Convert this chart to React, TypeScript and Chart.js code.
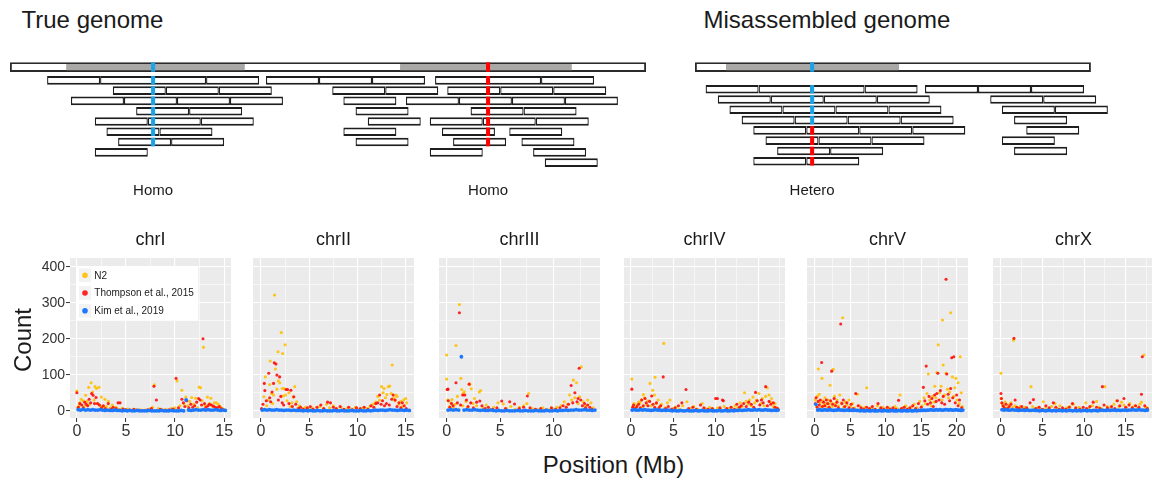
import React, { useEffect, useRef } from 'react';
import { Chart, registerables } from 'chart.js';

Chart.register(...registerables);

const FONT = '"Liberation Sans", Arial, Helvetica, sans-serif';
Chart.defaults.font.family = FONT;

// ---------------------------------------------------------------------------
// Read-pileup schematic. Coordinates in kb along each assembly; every read is
// READ_LEN long, and each row lists the start of every read in that row.
// ---------------------------------------------------------------------------
const READ_LEN = 10;

const TRUE_GENOME = [0, 120];
const TRUE_REPEATS = [
  [10.6, 44.3],
  [73.6, 106.0],
];
const TRUE_READS = [
  [7, 17, 27, 37, 48.3, 58.3, 68.3, 80.2, 90.2, 100.2],
  [19.4, 29.4, 39.4, 60.8, 70.8, 82.5, 92.5, 102.5],
  [11.5, 21.5, 31.5, 41.5, 62.9, 74.7, 84.7, 94.7, 104.7],
  [23.8, 33.8, 65.2, 86.9, 96.9],
  [16, 26, 36, 67.5, 79.2, 89.2, 99.2],
  [18.2, 28.2, 62.9, 81.5, 94.2],
  [20.4, 30.4, 65.2, 83.6, 96.5],
  [16, 79.2, 98.7],
  [100.9],
];
const TRUE_SITES = [
  { pos: 27, allele: 'ref', label: 'Homo' },
  { pos: 90.2, allele: 'alt', label: 'Homo' },
];

const MIS_GENOME = [0, 74.7];
const MIS_REPEATS = [[5.85, 38.5]];
const MIS_READS = [
  [2, 12, 22, 32, 43.4, 53.4, 63.4],
  [4.3, 14.3, 24.3, 34.3, 55.7, 65.7],
  [6.5, 16.5, 26.5, 36.5, 57.9, 67.9],
  [8.8, 18.8, 28.8, 38.8, 60.2],
  [11, 21, 31, 41, 62.5],
  [13.3, 23.3, 33.3, 57.9],
  [15.5, 25.5, 60.2],
  [11, 21],
];
const MIS_SITES = [{ pos: 22.1, allele: 'ref', label: 'Hetero' }];
// allele carried by the reads of each row at the collapsed site
const MIS_ROW_ALLELES = ['ref', 'ref', 'ref', 'ref', 'alt', 'alt', 'alt', 'alt'];

// ---------------------------------------------------------------------------
// Per-chromosome counts. N2 and Thompson et al. are [position (Mb), count];
// Kim et al. is a count per KIM_BIN_MB window starting at 0 Mb.
// ---------------------------------------------------------------------------
const CHROMOSOMES = ['chrI', 'chrII', 'chrIII', 'chrIV', 'chrV', 'chrX'];
const KIM_BIN_MB = 0.25;

const N2_I = [[0,55],[0.1,8],[0.2,14],[0.3,22],[0.45,32],[0.6,28],[0.75,12],[0.9,43],[1.05,26],[1.2,65],[1.3,18],[1.45,78],[1.6,52],[1.75,30],[1.85,67],[2.0,62],[2.15,20],[2.25,65],[2.4,14],[2.5,38],[2.7,10],[2.85,32],[3.0,12],[3.2,26],[3.4,8],[3.6,16],[3.8,6],[4.0,10],[4.3,4],[4.6,6],[4.9,3],[5.2,5],[5.6,2],[6.0,4],[6.5,3],[7.0,2],[7.4,5],[7.7,10],[7.9,72],[8.3,6],[8.7,4],[9.2,3],[9.6,6],[10.0,8],[10.2,83],[10.5,14],[10.7,57],[10.9,20],[11.1,38],[11.3,14],[11.5,26],[11.7,37],[11.9,18],[12.1,35],[12.3,8],[12.45,66],[12.6,64],[12.75,28],[12.9,176],[13.05,15],[13.3,38],[13.5,20],[13.65,35],[13.85,12],[14.0,22],[14.2,22],[14.4,18],[14.6,12],[14.8,6],[14.95,4]];
const THOMPSON_I = [[0,50],[0.15,10],[0.3,20],[0.5,16],[0.65,8],[0.8,24],[0.95,18],[1.1,14],[1.25,32],[1.4,22],[1.5,48],[1.65,43],[1.8,20],[1.95,37],[2.1,20],[2.3,16],[2.5,8],[2.7,14],[2.9,6],[3.2,20],[3.5,5],[3.7,10],[4.0,6],[4.2,22],[4.4,22],[4.7,5],[5.0,3],[5.4,2],[5.8,4],[6.3,2],[6.8,1],[7.2,3],[7.6,6],[7.85,68],[8.1,30],[8.5,4],[9.0,2],[9.4,3],[9.8,5],[10.1,90],[10.35,8],[10.7,32],[10.85,22],[11.0,12],[11.2,28],[11.4,8],[11.6,18],[11.8,10],[12.0,14],[12.2,24],[12.4,34],[12.55,30],[12.7,16],[12.85,200],[13.0,20],[13.15,10],[13.35,14],[13.5,18],[13.7,16],[13.9,13],[14.1,10],[14.3,8],[14.5,12],[14.7,6],[14.9,3]];
const KIM_I = [3,2,4,2,3,2,3,2,2,3,2,1,2,1,1,2,1,1,0,1,0,1,0,0,1,0,0,0,0,1,0,0,0,0,1,0,0,0,1,0,0,0,1,0,30,2,1,2,3,2,2,3,2,3,2,2,3,2,1,2,1];

const N2_II = [[0.1,4],[0.3,39],[0.45,94],[0.6,14],[0.75,30],[0.9,73],[0.95,138],[1.1,48],[1.2,20],[1.3,44],[1.4,321],[1.5,116],[1.65,60],[1.76,164],[1.8,83],[1.95,78],[2.1,217],[2.2,62],[2.24,159],[2.3,41],[2.4,62],[2.5,183],[2.55,44],[2.7,28],[2.9,50],[3.05,12],[3.2,22],[3.35,38],[3.5,67],[3.7,25],[3.85,8],[4.0,14],[4.3,6],[4.6,10],[4.9,4],[5.3,8],[5.7,3],[6.1,12],[6.5,6],[6.8,18],[7.1,8],[7.5,14],[7.9,4],[8.3,10],[8.7,3],[9.0,8],[9.4,5],[9.8,10],[10.2,4],[10.6,8],[11.0,6],[11.3,12],[11.6,18],[11.9,24],[12.1,40],[12.3,30],[12.5,67],[12.65,50],[12.76,62],[12.9,36],[13.05,45],[13.2,67],[13.35,69],[13.5,48],[13.6,127],[13.75,36],[13.9,28],[14.0,44],[14.1,40],[14.3,18],[14.5,26],[14.65,12],[14.8,30],[15.0,34],[15.1,22]];
const THOMPSON_II = [[0.05,6],[0.2,18],[0.34,76],[0.4,56],[0.55,28],[0.8,104],[0.9,36],[1.0,25],[1.15,52],[1.3,76],[1.38,133],[1.55,130],[1.65,99],[1.8,30],[1.93,94],[2.05,40],[2.2,22],[2.35,16],[2.6,59],[2.75,59],[2.9,20],[3.1,57],[3.25,12],[3.4,39],[3.6,18],[3.9,6],[4.1,10],[4.4,4],[4.8,8],[5.1,12],[5.4,4],[5.8,10],[6.2,16],[6.5,6],[6.9,24],[7.2,22],[7.5,10],[7.8,6],[8.2,12],[8.6,4],[9.1,10],[9.5,3],[9.9,8],[10.3,6],[10.7,10],[11.1,4],[11.4,14],[11.7,10],[11.9,20],[12.1,22],[12.3,44],[12.45,18],[12.6,28],[12.8,14],[13.0,20],[13.3,16],[13.55,32],[13.7,44],[13.9,30],[14.1,12],[14.3,22],[14.5,8],[14.65,22],[14.85,14],[15.05,6]];
const KIM_II = [2,3,2,3,2,2,3,2,2,1,2,2,1,2,1,1,1,0,1,0,1,0,0,1,0,0,1,0,0,0,1,0,0,1,0,0,0,1,0,0,0,1,0,0,1,0,1,2,1,2,2,1,2,3,2,2,1,2,2,1,2,1];

const N2_III = [[0.0,155],[0.0,88],[0.1,30],[0.25,12],[0.4,22],[0.5,31],[0.65,8],[0.8,18],[0.87,181],[1.0,40],[1.19,295],[1.33,90],[1.4,59],[1.5,14],[1.55,48],[1.64,53],[1.8,26],[1.95,10],[2.17,74],[2.3,61],[2.45,20],[2.6,34],[2.8,14],[3.05,52],[3.17,56],[3.4,8],[3.7,16],[4.0,5],[4.4,10],[4.8,22],[5.3,19],[5.6,6],[6.0,12],[6.4,4],[6.8,10],[7.2,14],[7.5,20],[7.67,48],[8.0,6],[8.5,4],[9.0,8],[9.5,3],[9.9,6],[10.3,10],[10.7,14],[11.0,25],[11.3,18],[11.5,44],[11.7,30],[11.86,85],[12.0,36],[12.15,78],[12.3,20],[12.45,39],[12.6,122],[12.8,25],[13.0,14],[13.2,30],[13.5,22],[13.7,8]];
const THOMPSON_III = [[0.05,59],[0.12,60],[0.15,28],[0.3,10],[0.45,20],[0.6,14],[0.87,78],[1.0,22],[1.19,272],[1.3,16],[1.5,44],[1.7,44],[1.85,30],[2.0,12],[2.1,74],[2.25,22],[2.5,8],[2.8,24],[3.1,27],[3.3,14],[3.6,6],[3.9,10],[4.3,4],[4.7,8],[5.15,27],[5.5,6],[5.9,25],[6.35,19],[6.8,6],[7.2,10],[7.55,41],[7.8,8],[8.3,4],[8.8,6],[9.3,3],[9.8,8],[10.2,4],[10.6,8],[10.9,14],[11.2,10],[11.4,18],[11.65,70],[11.8,22],[12.0,50],[12.2,25],[12.3,34],[12.4,118],[12.55,30],[12.7,14],[12.9,20],[13.0,8],[13.2,16],[13.4,10],[13.6,4]];
const KIM_III = [2,3,2,3,2,150,2,3,2,2,3,2,1,2,1,1,2,1,0,1,0,0,1,0,0,0,1,0,0,1,0,0,0,1,0,0,0,1,0,0,1,0,1,1,2,1,2,2,3,2,2,3,2,2,1,2];

const N2_IV = [[0.09,88],[0.2,12],[0.35,20],[0.5,8],[0.7,16],[0.9,24],[1.06,22],[1.2,30],[1.35,10],[1.46,45],[1.6,36],[1.8,18],[2.0,28],[2.24,76],[2.4,14],[2.56,57],[2.76,44],[2.83,93],[3.0,20],[3.2,30],[3.4,12],[3.6,18],[3.86,187],[4.0,8],[4.3,22],[4.6,30],[4.9,6],[5.3,10],[5.7,4],[6.1,14],[6.6,25],[7.0,6],[7.4,12],[7.9,4],[8.4,20],[8.8,6],[9.3,10],[9.7,4],[10.2,8],[10.6,4],[11.0,12],[11.5,6],[11.9,10],[12.3,14],[12.6,8],[12.9,22],[13.1,12],[13.4,50],[13.6,26],[13.8,18],[14.0,30],[14.2,14],[14.4,38],[14.6,22],[14.8,30],[15.1,48],[15.3,20],[15.5,34],[15.7,14],[15.9,40],[16.1,64],[16.3,44],[16.5,24],[16.6,34],[16.8,12],[17.0,20],[17.2,8],[17.4,4]];
const THOMPSON_IV = [[0.09,60],[0.2,10],[0.3,16],[0.5,6],[0.7,12],[0.9,18],[1.1,8],[1.26,30],[1.45,14],[1.65,34],[1.8,22],[2.0,14],[2.2,26],[2.44,41],[2.6,18],[2.8,10],[3.0,22],[3.3,8],[3.5,14],[3.8,94],[4.1,6],[4.4,12],[4.8,4],[5.2,8],[5.6,14],[6.0,22],[6.49,59],[6.8,6],[7.3,10],[7.7,4],[8.2,16],[8.6,8],[9.1,4],[9.6,6],[9.99,34],[10.2,34],[10.5,8],[10.8,30],[10.9,28],[11.3,6],[11.8,10],[12.2,4],[12.5,18],[12.8,10],[13.0,14],[13.3,20],[13.6,12],[13.9,24],[14.2,18],[14.5,10],[14.7,51],[14.9,28],[15.2,16],[15.4,30],[15.6,22],[15.9,67],[16.1,14],[16.3,26],[16.5,18],[16.8,22],[17.0,10],[17.3,6]];
const KIM_IV = [2,3,2,2,3,2,3,2,2,1,2,3,2,2,1,2,1,2,1,0,1,0,0,1,0,0,1,0,0,0,1,0,0,1,0,0,0,1,0,0,0,1,0,0,1,0,0,1,0,1,1,2,1,2,2,3,2,2,3,2,3,2,2,3,2,2,1,2,1,2];

const N2_V = [[0.05,30],[0.2,14],[0.35,40],[0.47,116],[0.6,46],[0.75,22],[0.85,10],[0.99,90],[1.1,28],[1.25,16],[1.4,36],[1.55,20],[1.7,8],[1.85,30],[2.0,18],[2.12,71],[2.3,24],[2.45,12],[2.59,115],[2.75,40],[2.9,20],[3.1,30],[3.3,14],[3.5,44],[3.7,22],[3.9,258],[4.05,10],[4.3,24],[4.5,16],[4.8,30],[5.0,12],[5.3,20],[5.6,8],[6.0,46],[6.3,14],[6.6,6],[7.0,10],[7.3,64],[7.6,4],[8.0,8],[8.4,4],[8.8,14],[9.2,6],[9.6,10],[10.1,4],[10.5,8],[10.9,3],[11.3,12],[11.6,6],[12.0,44],[12.4,8],[12.8,14],[13.2,6],[13.6,10],[14.0,18],[14.4,8],[14.8,26],[15.1,14],[15.4,36],[15.6,20],[15.8,48],[16.0,102],[16.2,30],[16.4,14],[16.6,40],[16.8,24],[16.9,68],[17.05,36],[17.2,106],[17.4,183],[17.6,50],[17.8,68],[17.95,30],[18.0,252],[18.1,127],[18.3,44],[18.5,104],[18.7,60],[18.85,36],[19.0,52],[19.15,272],[19.4,94],[19.6,40],[19.75,64],[19.9,90],[20.05,30],[20.2,78],[20.35,20],[20.5,150],[20.65,50],[20.8,12]];
const THOMPSON_V = [[0.05,20],[0.15,36],[0.3,10],[0.45,26],[0.6,16],[0.75,30],[0.94,134],[1.05,12],[1.2,24],[1.4,14],[1.6,30],[1.8,20],[2.0,10],[2.2,28],[2.35,110],[2.5,18],[2.7,34],[2.9,14],[3.1,24],[3.3,8],[3.63,241],[3.8,20],[4.0,30],[4.2,12],[4.5,22],[4.8,8],[5.1,18],[5.4,6],[5.75,48],[6.1,14],[6.5,8],[6.9,4],[7.3,10],[7.7,6],[8.1,12],[8.5,4],[8.9,20],[9.3,8],[9.7,4],[10.2,10],[10.6,4],[11.0,8],[11.4,4],[11.8,29],[12.2,6],[12.6,10],[13.0,4],[13.4,8],[13.8,14],[14.2,6],[14.6,20],[15.0,10],[15.3,65],[15.5,28],[15.7,124],[15.9,18],[16.1,40],[16.3,22],[16.5,34],[16.7,12],[16.9,44],[17.1,26],[17.2,48],[17.35,104],[17.5,30],[17.7,56],[17.9,22],[18.1,40],[18.3,18],[18.5,365],[18.6,102],[18.8,46],[19.0,28],[19.15,62],[19.3,147],[19.45,36],[19.6,150],[19.8,22],[20.0,44],[20.2,14],[20.4,30],[20.7,8]];
const KIM_V = [18,2,3,2,2,3,2,2,3,2,1,2,2,3,2,2,1,2,2,1,2,1,2,1,1,0,1,0,0,1,0,0,1,0,0,0,1,0,0,1,0,0,0,1,0,0,0,1,0,0,1,0,0,1,0,0,1,0,1,1,1,2,1,2,2,3,2,2,3,2,3,2,2,3,3,2,3,2,2,3,2,2,1,2];

const N2_X = [[0.0,104],[0.05,34],[0.15,20],[0.3,12],[0.5,24],[0.7,8],[0.9,16],[1.2,22],[1.4,10],[1.5,196],[1.7,14],[2.0,8],[2.3,12],[2.6,6],[2.9,10],[3.2,4],[3.61,67],[3.8,12],[4.1,6],[4.5,10],[4.8,4],[5.1,25],[5.4,8],[5.8,4],[6.1,12],[6.5,20],[6.8,6],[7.1,14],[7.5,4],[7.9,8],[8.3,12],[8.7,18],[9.0,6],[9.4,10],[9.8,4],[10.2,22],[10.6,8],[11.0,14],[11.5,26],[11.8,10],[12.1,6],[12.5,67],[12.8,12],[13.2,8],[13.6,18],[13.9,28],[14.2,12],[14.5,24],[14.8,16],[15.1,8],[15.5,20],[15.8,10],[16.1,14],[16.4,6],[16.7,18],[16.9,24],[17.2,155],[17.4,10],[17.6,8]];
const THOMPSON_X = [[0.0,48],[0.05,34],[0.1,22],[0.25,14],[0.4,8],[0.6,18],[0.8,6],[1.0,12],[1.2,18],[1.56,201],[1.7,30],[1.9,10],[2.2,6],[2.5,12],[2.8,4],[3.1,8],[3.5,22],[3.9,31],[4.2,6],[4.6,10],[5.0,4],[5.4,14],[5.8,8],[6.3,22],[6.6,10],[7.0,4],[7.4,8],[7.8,4],[8.2,10],[8.6,20],[9.0,8],[9.5,4],[9.9,10],[10.3,6],[10.7,12],[11.1,24],[11.5,10],[11.9,6],[12.2,67],[12.4,16],[12.8,8],[13.3,12],[13.7,6],[14.0,28],[14.3,14],[14.8,34],[15.0,10],[15.4,16],[15.8,8],[16.2,14],[16.6,10],[16.9,46],[17.0,150],[17.3,14],[17.6,6]];
const KIM_X = [3,2,3,2,2,3,2,2,1,2,2,1,2,1,1,2,1,1,0,1,1,0,1,1,0,1,0,1,1,0,1,0,1,1,0,1,0,1,0,1,1,0,1,0,1,1,0,1,2,1,1,2,1,2,2,1,2,1,2,2,1,2,2,3,2,2,3,2,2,1,2];

const N2_SERIES = [N2_I, N2_II, N2_III, N2_IV, N2_V, N2_X];
const THOMPSON_SERIES = [THOMPSON_I, THOMPSON_II, THOMPSON_III, THOMPSON_IV, THOMPSON_V, THOMPSON_X];
const KIM_SERIES = [KIM_I, KIM_II, KIM_III, KIM_IV, KIM_V, KIM_X];

const SERIES_LABELS = ['N2', 'Thompson et al., 2015', 'Kim et al., 2019'];
const Y_TICKS = [0, 100, 200, 300, 400];

// ---------------------------------------------------------------------------
// Styling / layout
// ---------------------------------------------------------------------------
const SERIES_COLOURS = ['rgba(255,192,8,0.92)', 'rgba(255,0,0,0.85)', '#1C78FF'];
const ALLELE_COLOURS: Record<string, string> = { ref: '#1AA3E6', alt: '#FF0000' };
const PX_PER_KB = 5.3;
const ROW_PX = 12;
const MARK_HALF_KB = 0.38;

const PANEL_TOP = 225;
const PANEL_HEIGHT = 220;
const PANEL_WIDTH = 161;
const PANEL_LEFTS = [70, 252.7, 439, 624, 807, 993];
const PANEL_X_RANGES = [
  [-0.7, 15.7],
  [-0.83, 15.86],
  [-0.72, 14.35],
  [-0.83, 18.18],
  [-1.13, 21.6],
  [-0.96, 18.41],
];
const Y_RANGE = [-20, 424];
const Y_AXIS_WIDTH = 40;

const isMajorY = (v: number) => Y_TICKS.includes(v);
const isMajorX = (v: number) => Math.abs(v / 5 - Math.round(v / 5)) < 1e-6;

// grey panel background, ggplot style
const panelBackground = {
  id: 'panelBackground',
  beforeDraw(chart: any) {
    const { ctx, chartArea: a } = chart;
    ctx.save();
    ctx.fillStyle = '#EBEBEB';
    ctx.fillRect(a.left, a.top, a.right - a.left, a.bottom - a.top);
    ctx.restore();
  },
};

// boxed legend in the top-left corner of the first panel
const insetLegend = {
  id: 'insetLegend',
  afterDatasetsDraw(chart: any, _args: any, opts: any) {
    if (!opts || !opts.show) return;
    const { ctx, chartArea: a } = chart;
    const boxX = a.left + 6.7;
    const boxY = a.top + 8.3;
    ctx.save();
    ctx.fillStyle = '#FFFFFF';
    ctx.fillRect(boxX, boxY, 121.6, 54.4);
    [0, 1, 2].forEach((di, i) => {
      const ds = chart.data.datasets[di];
      const cy = boxY + 9 + i * 17.7;
      const cx = boxX + 8.3;
      ctx.fillStyle = '#F2F2F2';
      ctx.fillRect(cx - 6, cy - 6.8, 12, 13.6);
      ctx.beginPath();
      ctx.arc(cx, cy, 2.8, 0, Math.PI * 2);
      ctx.fillStyle = ds.backgroundColor;
      ctx.fill();
      ctx.fillStyle = '#1A1A1A';
      ctx.font = `10px ${FONT}`;
      ctx.textAlign = 'left';
      ctx.textBaseline = 'middle';
      ctx.fillText(ds.label, boxX + 17.6, cy + 0.5);
    });
    ctx.restore();
  },
};

function ChromosomePanel({ index }: { index: number }) {
  const ref = useRef<HTMLCanvasElement>(null);
  const first = index === 0;
  const padL = first ? 0 : 10;
  const padR = 10;
  const yWidth = first ? Y_AXIS_WIDTH : 0;
  const left = PANEL_LEFTS[index] - yWidth - padL;
  const width = padL + yWidth + PANEL_WIDTH + padR;

  useEffect(() => {
    const kim = KIM_SERIES[index].map((v, i) => [(i + 0.5) * KIM_BIN_MB, v]);
    const [xMin, xMax] = PANEL_X_RANGES[index];
    const chart = new Chart(ref.current as HTMLCanvasElement, {
      type: 'scatter',
      data: {
        datasets: [
          { label: SERIES_LABELS[0], data: N2_SERIES[index] as any, backgroundColor: SERIES_COLOURS[0], pointRadius: 1.55, pointBorderWidth: 0, order: 3 },
          { label: SERIES_LABELS[1], data: THOMPSON_SERIES[index] as any, backgroundColor: SERIES_COLOURS[1], pointRadius: 1.55, pointBorderWidth: 0, order: 2 },
          { label: SERIES_LABELS[2], data: kim as any, backgroundColor: SERIES_COLOURS[2], pointRadius: 1.9, pointBorderWidth: 0, order: 1 },
        ],
      },
      options: {
        animation: false,
        responsive: false,
        events: [],
        layout: { padding: { left: padL, right: padR, top: 0, bottom: 0 } },
        plugins: {
          legend: { display: false },
          tooltip: { enabled: false },
          title: {
            display: true,
            text: CHROMOSOMES[index],
            fullSize: false,
            color: '#1A1A1A',
            font: { size: 18, weight: 'normal', family: FONT },
            padding: { top: 4.7, bottom: 6.7 },
          },
          insetLegend: { show: first },
        } as any,
        scales: {
          x: {
            type: 'linear',
            min: xMin,
            max: xMax,
            afterFit: (s: any) => { s.height = 27; },
            border: { display: false },
            grid: {
              color: '#FFFFFF',
              lineWidth: (c: any) => (c.tick && isMajorX(c.tick.value) ? 1.1 : 0.55),
              tickColor: (c: any) => (c.tick && isMajorX(c.tick.value) ? '#333333' : 'rgba(0,0,0,0)'),
              tickLength: 4,
              tickWidth: 1,
            },
            ticks: {
              stepSize: 2.5,
              includeBounds: false,
              autoSkip: false,
              maxRotation: 0,
              minRotation: 0,
              padding: 0,
              color: '#333333',
              font: { size: 16, family: FONT },
              callback: (v: any) => (isMajorX(Number(v)) ? String(v) : ''),
            },
          },
          y: {
            type: 'linear',
            min: Y_RANGE[0],
            max: Y_RANGE[1],
            afterFit: (s: any) => { s.width = yWidth; },
            border: { display: false },
            grid: {
              color: '#FFFFFF',
              lineWidth: (c: any) => (c.tick && isMajorY(c.tick.value) ? 1.1 : 0.55),
              tickColor: (c: any) => (c.tick && isMajorY(c.tick.value) ? '#333333' : 'rgba(0,0,0,0)'),
              drawTicks: first,
              tickLength: 4,
              tickWidth: 1,
            },
            ticks: {
              display: first,
              stepSize: 50,
              includeBounds: false,
              autoSkip: false,
              padding: 1,
              color: '#333333',
              font: { size: 14, family: FONT },
              callback: (v: any) => (isMajorY(Number(v)) ? String(v) : ''),
            },
          },
        },
      } as any,
      plugins: [panelBackground, insetLegend],
    });
    return () => chart.destroy();
  }, [index]);

  return (
    <canvas
      ref={ref}
      width={width}
      height={PANEL_HEIGHT}
      style={{ position: 'absolute', left, top: PANEL_TOP, width, height: PANEL_HEIGHT }}
    />
  );
}

// text labels under each variant site
const siteLabels = {
  id: 'siteLabels',
  afterDraw(chart: any, _args: any, opts: any) {
    const { ctx } = chart;
    const x = chart.scales.x;
    ctx.save();
    ctx.fillStyle = '#1A1A1A';
    ctx.font = `15px ${FONT}`;
    ctx.textAlign = 'center';
    ctx.textBaseline = 'alphabetic';
    (opts.sites || []).forEach((s: any) => {
      ctx.fillText(s.label, x.getPixelForValue(s.pos), opts.baseline);
    });
    ctx.restore();
  },
};

interface DiagramProps {
  left: number;
  top: number;
  width: number;
  height: number;
  originX: number;
  genome: number[];
  repeats: number[][];
  reads: number[][];
  sites: { pos: number; allele: string; label: string }[];
  rowAlleles?: string[];
  firstRowY: number;
  genomeY: number;
  labelBaseline: number;
}

function ReadDiagram(p: DiagramProps) {
  const ref = useRef<HTMLCanvasElement>(null);

  useEffect(() => {
    const readData: any[] = [];
    p.reads.forEach((row, r) => row.forEach((s) => readData.push({ x: [s, s + READ_LEN], y: r + 1 })));

    const markData: any[] = [];
    const markColours: string[] = [];
    p.reads.forEach((row, r) => {
      p.sites.forEach((site) => {
        if (row.some((s) => s <= site.pos && site.pos <= s + READ_LEN)) {
          markData.push({ x: [site.pos - MARK_HALF_KB, site.pos + MARK_HALF_KB], y: r + 1 });
          markColours.push(ALLELE_COLOURS[p.rowAlleles ? p.rowAlleles[r] : site.allele]);
        }
      });
    });
    const genomeMarks = p.sites.map((site) => ({ x: [site.pos - MARK_HALF_KB, site.pos + MARK_HALF_KB], y: 0 }));
    const genomeMarkColours = p.sites.map((site) => ALLELE_COLOURS[site.allele]);

    const common = { grouped: false, borderSkipped: false, inflateAmount: 0 };
    const rowMin = 1 - p.firstRowY / ROW_PX;
    const gMin = -p.genomeY / ROW_PX;

    const chart = new Chart(ref.current as HTMLCanvasElement, {
      type: 'bar',
      data: {
        datasets: [
          { ...common, data: genomeMarks, yAxisID: 'yg', backgroundColor: genomeMarkColours, borderWidth: 0, barThickness: 9.4, order: 0 },
          { ...common, data: markData, yAxisID: 'y', backgroundColor: markColours, borderWidth: 0, barThickness: 8.6, order: 0 },
          { ...common, data: p.repeats.map((r) => ({ x: r, y: 0 })), yAxisID: 'yg', backgroundColor: '#AAA7A7', borderWidth: 0, barThickness: 6.2, order: 1 },
          { ...common, data: readData, yAxisID: 'y', backgroundColor: '#FFFFFF', borderColor: '#1E1E1E', borderWidth: { top: 2, bottom: 2, left: 1.3, right: 1.3 }, barThickness: 8.6, order: 2 },
          { ...common, data: [{ x: p.genome, y: 0 }], yAxisID: 'yg', backgroundColor: '#FFFFFF', borderColor: '#2A2A2A', borderWidth: 1.9, barThickness: 9.8, order: 3 },
        ],
      },
      options: {
        indexAxis: 'y',
        animation: false,
        responsive: false,
        events: [],
        layout: { padding: 0 },
        plugins: {
          legend: { display: false },
          tooltip: { enabled: false },
          title: { display: false },
          siteLabels: { sites: p.sites, baseline: p.labelBaseline },
        } as any,
        scales: {
          x: { type: 'linear', display: false, min: -p.originX / PX_PER_KB, max: (p.width - p.originX) / PX_PER_KB },
          y: { type: 'linear', display: false, reverse: true, min: rowMin, max: rowMin + p.height / ROW_PX, ticks: { stepSize: 1 } },
          yg: { type: 'linear', display: false, reverse: true, min: gMin, max: gMin + p.height / ROW_PX, ticks: { stepSize: 1 } },
        },
      } as any,
      plugins: [siteLabels],
    });
    return () => chart.destroy();
  }, []);

  return (
    <canvas
      ref={ref}
      width={p.width}
      height={p.height}
      style={{ position: 'absolute', left: p.left, top: p.top, width: p.width, height: p.height }}
    />
  );
}

const textStyle: React.CSSProperties = {
  position: 'absolute',
  fontFamily: FONT,
  fontSize: 24,
  lineHeight: '28px',
  color: '#1A1A1A',
  whiteSpace: 'nowrap',
};

export default function App() {
  return (
    <div
      style={{
        position: 'fixed',
        left: 0,
        top: 0,
        width: 1152,
        height: 481,
        overflow: 'hidden',
        background: '#FFFFFF',
      }}
    >
      <div style={{ ...textStyle, left: 21.5, top: 6 }}>True genome</div>
      <div style={{ ...textStyle, left: 703.5, top: 6 }}>Misassembled genome</div>

      <ReadDiagram
        left={0}
        top={40}
        width={660}
        height={165}
        originX={10}
        genome={TRUE_GENOME}
        repeats={TRUE_REPEATS}
        reads={TRUE_READS}
        sites={TRUE_SITES}
        firstRowY={33.3}
        genomeY={17.8}
        labelBaseline={154.5}
      />
      <ReadDiagram
        left={660}
        top={40}
        width={492}
        height={165}
        originX={35}
        genome={MIS_GENOME}
        repeats={MIS_REPEATS}
        reads={MIS_READS}
        sites={MIS_SITES}
        rowAlleles={MIS_ROW_ALLELES}
        firstRowY={43.7}
        genomeY={17.8}
        labelBaseline={154.5}
      />

      {CHROMOSOMES.map((_, i) => (
        <ChromosomePanel key={i} index={i} />
      ))}

      <div
        style={{
          ...textStyle,
          left: 22.5 - 50,
          top: 340 - 14,
          width: 100,
          textAlign: 'center',
          transform: 'rotate(-90deg)',
        }}
      >
        Count
      </div>
      <div style={{ ...textStyle, left: 613.5 - 200, top: 450.7, width: 400, textAlign: 'center' }}>
        Position (Mb)
      </div>
    </div>
  );
}
